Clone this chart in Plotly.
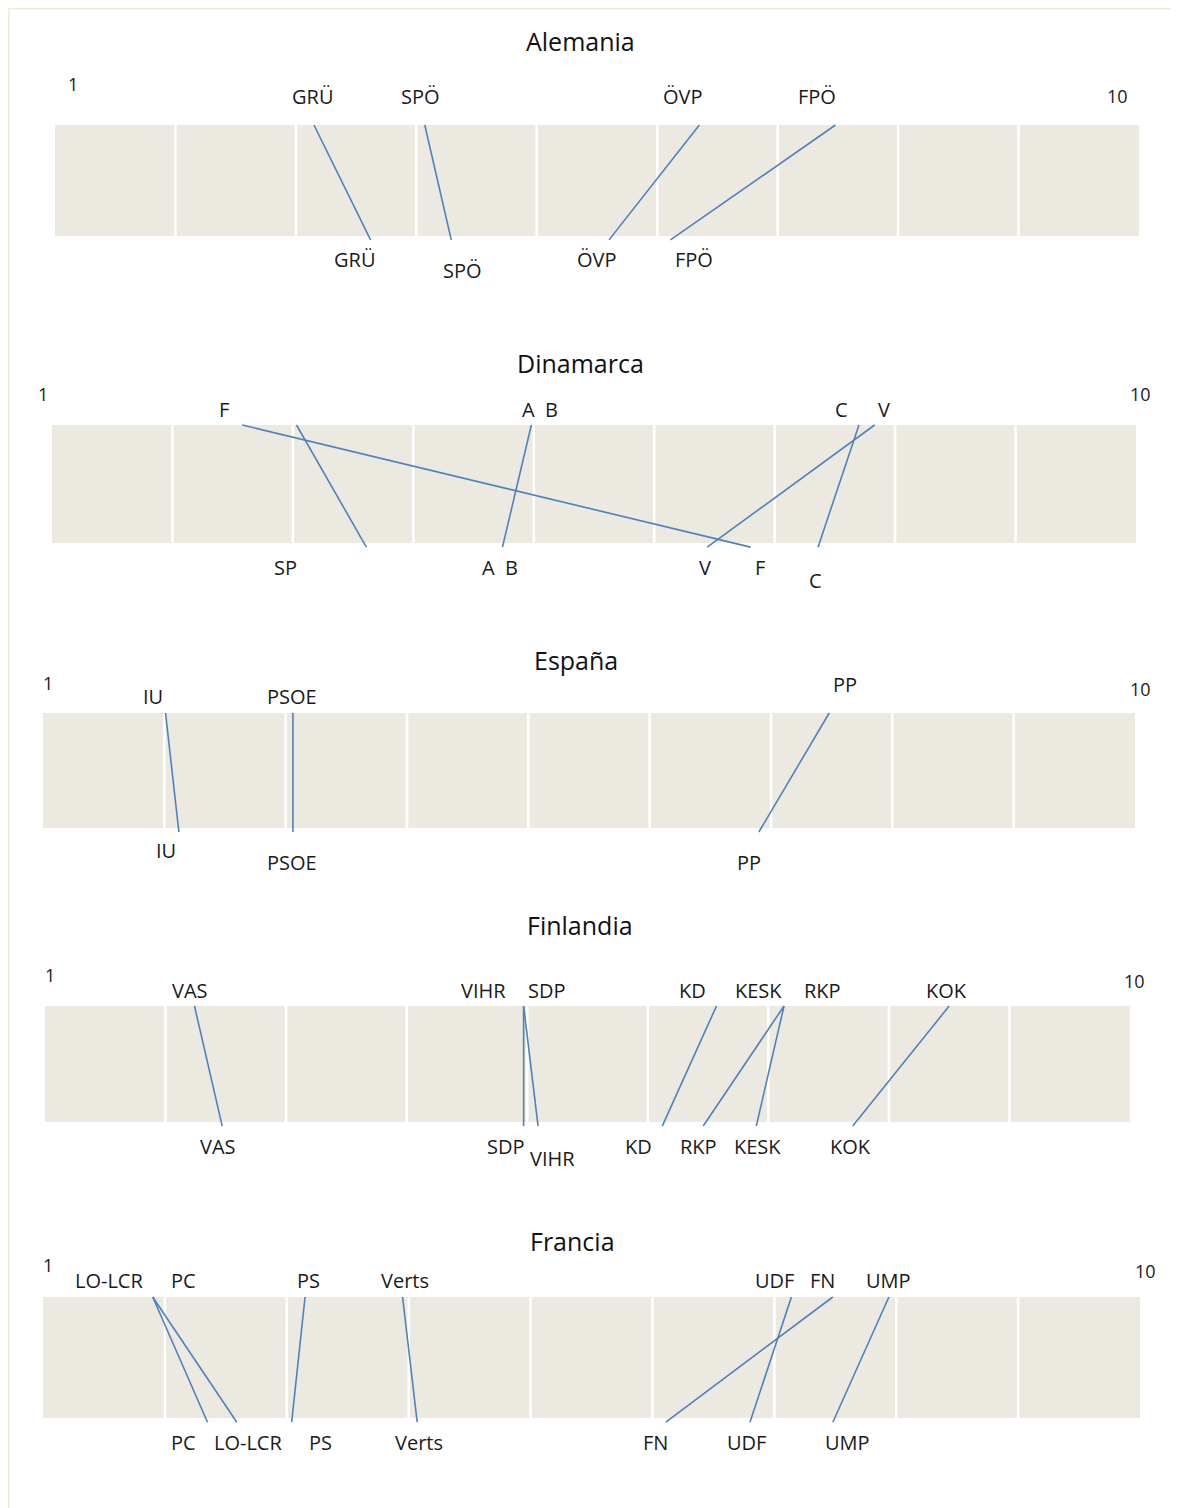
import plotly.graph_objects as go

W, H = 1179, 1508
OFF = 8            # browser body margin
FW, FH = W - OFF, H - OFF

# ---------------- data ----------------
scale_ticks = list(range(1, 11))
countries = ["Alemania", "Dinamarca", "España", "Finlandia", "Francia"]

de_parties = ["GRÜ", "SPÖ", "ÖVP", "FPÖ"]
de_top = [3.15, 4.07, 6.35, 7.48]
de_bottom = [3.62, 4.29, 5.60, 6.11]

dk_parties = ["F", "SP", "A  B", "C", "V"]
dk_top_labels = ["F", None, "A  B", "C", "V"]
dk_top = [2.58, 3.03, 4.98, 7.70, 7.83]
dk_bottom = [6.80, 3.61, 4.74, 7.36, 6.44]

es_parties = ["IU", "PSOE", "PP"]
es_top = [2.01, 3.06, 7.48]
es_bottom = [2.12, 3.06, 6.90]

fi_parties = ["VAS", "VIHR", "SDP", "KD", "KESK", "RKP", "KOK"]
fi_top = [2.24, 4.97, 4.97, 6.57, 7.13, 7.13, 8.50]
fi_bottom = [2.47, 5.09, 4.97, 6.12, 6.90, 6.46, 7.70]

fr_parties = ["LO-LCR", "PC", "PS", "Verts", "UDF", "FN", "UMP"]
fr_top = [1.90, 1.90, 3.15, 3.95, 7.14, 7.48, 7.94]
fr_bottom = [2.59, 2.35, 3.04, 4.07, 6.80, 6.11, 7.48]

datasets = [
    (de_parties, de_parties, de_top, de_bottom),
    (dk_parties, dk_top_labels, dk_top, dk_bottom),
    (es_parties, es_parties, es_top, es_bottom),
    (fi_parties, fi_parties, fi_top, fi_bottom),
    (fr_parties, fr_parties, fr_top, fr_bottom),
]

# ---------------- layout / style (page pixels) ----------------
strips = [  # left, right, top, bottom
    (55, 1139, 125, 236),
    (52, 1136, 425, 543),
    (43, 1135, 713, 828),
    (45, 1130, 1006, 1122),
    (43, 1140, 1297, 1418),
]
title_pos = [(580, 41), (580, 363), (576, 660), (580, 925), (572, 1241)]
# end-number label offsets: (dx1, dy1, dx10, dy10)
end_offsets = [(18, 41, -22, 29), (-9, 31, 4, 31), (5, 30, 5, 24),
               (5, 31, 4, 25), (5, 32, 5, 26)]
# label offsets (dx, dy) in px
top_off = [
    [(-1, 28), (-4, 28), (-16, 28), (-18, 28)],
    [(-18, 16), (0, 16), (9, 16), (-17, 16), (9, 16)],
    [(-13, 16), (-1, 16), (16, 28)],
    [(-4, 16), (-40, 16), (23, 16), (-24, 16), (-26, 16), (38, 16), (-3, 16)],
    [(-44, 17), (31, 17), (3, 17), (2, 17), (-17, 17), (-10, 17), (0, 17)],
]
bot_off = [
    [(-16, 23), (11, 34), (-12, 23), (24, 23)],
    [(9, 24), (-81, 24), (-2, 24), (-3, 37), (-2, 24)],
    [(-13, 23), (-1, 35), (-10, 35)],
    [(-4, 24), (14, 36), (-18, 24), (-24, 24), (1, 24), (-5, 24), (-2, 24)],
    [(11, 24), (-24, 24), (29, 24), (2, 24), (-3, 24), (-10, 24), (15, 24)],
]

STRIP = "#ECEAE0"
LINE = "#4F81BD"
TXT = "#1A1A1A"
FONT = "Open Sans"
LSIZE = 20
YLO, YHI = -0.1, 1.1
LINE_END = -0.035


def px(x):
    return (x - OFF) / FW


def py(y):
    return 1 - (y - OFF) / FH


fig = go.Figure()
shapes, annotations = [], []
layout_axes = {}

for k, (parties, top_labels, top_vals, bot_vals) in enumerate(datasets):
    n = k + 1
    sfx = "" if n == 1 else str(n)
    xr, yr = f"x{sfx}", f"y{sfx}"
    L, R, T, B = strips[k]
    h = B - T
    ptop = T - (YHI - 1) * h
    pbot = B + (0 - YLO) * h
    layout_axes[f"xaxis{sfx}"] = dict(domain=[px(L), px(R)], range=[1, 10],
                                      visible=False, fixedrange=True, anchor=yr)
    layout_axes[f"yaxis{sfx}"] = dict(domain=[py(pbot), py(ptop)],
                                      range=[YLO, YHI], visible=False,
                                      fixedrange=True, anchor=xr)
    # boxes
    for a in scale_ticks[:-1]:
        shapes.append(dict(type="rect", xref=xr, yref=yr, x0=a, x1=a + 1, y0=0, y1=1,
                           fillcolor=STRIP, line=dict(width=0), layer="below"))
    for a in scale_ticks[1:-1]:
        shapes.append(dict(type="line", xref=xr, yref=yr, x0=a, x1=a, y0=0, y1=1,
                           line=dict(color="white", width=2.5), layer="below"))
    # connecting lines
    for p, tv, bv in zip(parties, top_vals, bot_vals):
        fig.add_trace(go.Scatter(x=[tv, bv], y=[1, LINE_END], mode="lines",
                                 line=dict(color=LINE, width=1.6),
                                 xaxis=xr, yaxis=yr, showlegend=False,
                                 hoverinfo="skip", name=p))
    # labels
    for j, (lab, tv) in enumerate(zip(top_labels, top_vals)):
        if lab is None:
            continue
        dx, dy = top_off[k][j]
        annotations.append(dict(text=lab, x=tv, y=1, xref=xr, yref=yr,
                                xshift=dx, yshift=dy, showarrow=False,
                                xanchor="center", yanchor="middle",
                                font=dict(family=FONT, size=LSIZE, color=TXT)))
    for j, (lab, bv) in enumerate(zip(parties, bot_vals)):
        dx, dy = bot_off[k][j]
        annotations.append(dict(text=lab, x=bv, y=0, xref=xr, yref=yr,
                                xshift=dx, yshift=-dy, showarrow=False,
                                xanchor="center", yanchor="middle",
                                font=dict(family=FONT, size=LSIZE, color=TXT)))
    # scale ends
    d1x, d1y, d10x, d10y = end_offsets[k]
    annotations.append(dict(text=str(scale_ticks[0]), x=scale_ticks[0], y=1,
                            xref=xr, yref=yr, xshift=d1x, yshift=d1y,
                            showarrow=False, xanchor="center", yanchor="middle",
                            font=dict(family=FONT, size=18, color=TXT)))
    annotations.append(dict(text=str(scale_ticks[-1]), x=scale_ticks[-1], y=1,
                            xref=xr, yref=yr, xshift=d10x, yshift=d10y,
                            showarrow=False, xanchor="center", yanchor="middle",
                            font=dict(family=FONT, size=18, color=TXT)))
    # title
    tx, ty = title_pos[k]
    annotations.append(dict(text=countries[k], x=px(tx), y=py(ty),
                            xref="paper", yref="paper", showarrow=False,
                            xanchor="center", yanchor="middle",
                            font=dict(family=FONT, size=25, color="#111111")))

# faint page border (top & left)
shapes.append(dict(type="line", xref="paper", yref="paper", x0=0, x1=1,
                   y0=0.9995, y1=0.9995, line=dict(color="#EEECD6", width=1.5)))
shapes.append(dict(type="line", xref="paper", yref="paper", x0=0.0006, x1=0.0006,
                   y0=0, y1=1, line=dict(color="#EEECD6", width=1.5)))

fig.update_layout(
    width=FW, height=FH, autosize=False,
    margin=dict(l=0, r=0, t=0, b=0),
    paper_bgcolor="white", plot_bgcolor="rgba(0,0,0,0)",
    shapes=shapes, annotations=annotations,
    **layout_axes,
)

fig.write_html("out.html", config={"displayModeBar": False})
